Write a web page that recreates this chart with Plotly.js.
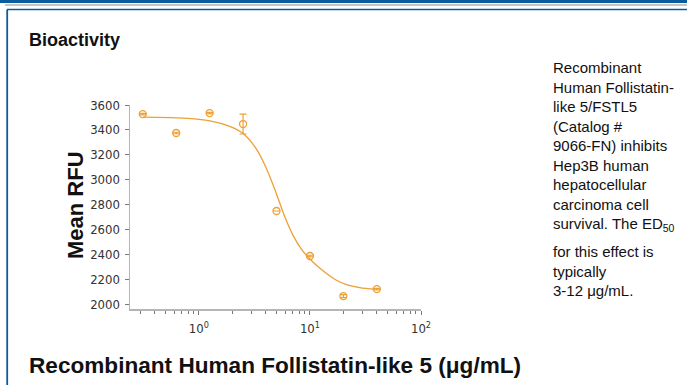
<!DOCTYPE html>
<html>
<head>
<meta charset="utf-8">
<script src="https://cdn.plot.ly/plotly-3.0.1.min.js"></script>
<style>
  html, body { margin: 0; padding: 0; background: #ffffff; }
  #chart { width: 687px; height: 385px; }
</style>
</head>
<body>
<div id="chart"></div>
<script>
// ---- data ----
const concentration = [0.3125, 0.625, 1.25, 2.5, 5, 10, 20, 40];
const meanRFU = [3527, 3375, 3535, 3447, 2748, 2386, 2064, 2120];
const errRFU = [6, 6, 6, 80, 0, 6, 12, 6];

const fitX = [0.315, 0.72, 1.26, 1.9, 2.5, 3.3, 4.1, 5.0, 5.95, 7.07, 8.4, 10, 12, 14.1, 17, 21.4, 28, 38.5];
const fitY = [3503, 3495, 3473, 3428, 3370, 3245, 3080, 2885, 2700, 2550, 2440, 2362, 2295, 2245, 2195, 2155, 2132, 2120];

const yTicks = [2000, 2200, 2400, 2600, 2800, 3000, 3200, 3400, 3600];
const xTickVals = [1, 10, 100];
const xTickText = ['10<sup>0</sup>', '10<sup>1</sup>', '10<sup>2</sup>'];
const xMinorTicks = [0.3, 0.4, 0.5, 0.6, 0.7, 0.8, 0.9, 2, 3, 4, 5, 6, 7, 8, 9, 20, 30, 40, 50, 60, 70, 80, 90];

const sideText1 = 'Recombinant<br>Human Follistatin-<br>like 5/FSTL5<br>(Catalog #<br>9066-FN) inhibits<br>Hep3B human<br>hepatocellular<br>carcinoma cell<br>survival. The ED<sub>50</sub>';
const sideText2 = 'for this effect is<br>typically<br>3-12 μg/mL.';

// ---- layout geometry ----
const W = 687, H = 385;
const M = { l: 130, r: 266, t: 105, b: 76 };
const PW = W - M.l - M.r, PH = H - M.t - M.b;
const px = x => (x - M.l) / PW;
const py = y => (H - M.b - y) / PH;

const orange = '#EDA033';
const condensed = '"DejaVu Sans Condensed", "Liberation Sans Narrow", "DejaVu Sans", sans-serif';
const arial = 'Arial, "Liberation Sans", Helvetica, sans-serif';

const traces = [
  {
    x: fitX, y: fitY, type: 'scatter', mode: 'lines',
    line: { color: orange, width: 1.3, shape: 'spline', smoothing: 1 },
    hoverinfo: 'skip', showlegend: false
  },
  {
    x: concentration, y: meanRFU, type: 'scatter', mode: 'markers',
    marker: { symbol: 'circle-open', size: 7, color: orange, line: { width: 1.3, color: orange } },
    error_y: { type: 'data', array: errRFU, visible: true, color: orange, thickness: 1.2, width: 3.5 },
    showlegend: false
  }
];

const borderBlue = '#0B5C9E';
const layout = {
  width: W, height: H,
  margin: M,
  paper_bgcolor: '#ffffff', plot_bgcolor: '#ffffff',
  showlegend: false,
  xaxis: {
    type: 'log', range: [-0.62, 2.0],
    tickmode: 'array', tickvals: xTickVals, ticktext: xTickText,
    ticks: 'outside', ticklen: 4, tickwidth: 1, tickcolor: '#777',
    minor: { tickmode: 'array', tickvals: xMinorTicks, ticks: 'outside', ticklen: 3, tickwidth: 1, tickcolor: '#777', showgrid: false },
    showline: true, linecolor: '#b5b5b5', linewidth: 1.5,
    showgrid: false, zeroline: false,
    tickfont: { family: condensed, size: 13, color: '#333' },
    ticklabelstandoff: 3
  },
  yaxis: {
    range: [1960, 3600],
    tickmode: 'array', tickvals: yTicks,
    ticks: 'outside', ticklen: 4, tickwidth: 1, tickcolor: '#777',
    showline: true, linecolor: '#b5b5b5', linewidth: 1.5,
    showgrid: false, zeroline: false,
    tickfont: { family: condensed, size: 13, color: '#333' },
    ticklabelstandoff: 2
  },
  shapes: [
    { type: 'rect', xref: 'paper', yref: 'paper', x0: px(0), x1: px(687), y0: py(0), y1: py(3), fillcolor: borderBlue, line: { width: 0 } },
    { type: 'line', xref: 'paper', yref: 'paper', x0: px(5), x1: px(687), y0: py(5), y1: py(5), line: { color: '#b0b0b0', width: 1.5 } },
    { type: 'line', xref: 'paper', yref: 'paper', x0: px(7), x1: px(687), y0: py(9.5), y1: py(9.5), line: { color: borderBlue, width: 1.5 } },
    { type: 'line', xref: 'paper', yref: 'paper', x0: px(7.2), x1: px(7.2), y0: py(9.5), y1: py(385), line: { color: borderBlue, width: 1.8 } }
  ],
  annotations: [
    { text: '<b>Bioactivity</b>', xref: 'paper', yref: 'paper', x: px(27), y: py(40), xanchor: 'left', yanchor: 'middle', showarrow: false, font: { family: arial, size: 18, color: '#111' } },
    { text: '<b>Mean RFU</b>', xref: 'paper', yref: 'paper', x: px(75), y: py(205), xanchor: 'center', yanchor: 'middle', textangle: -90, showarrow: false, font: { family: arial, size: 22, color: '#111' } },
    { text: '<b>Recombinant Human Follistatin-like 5 (μg/mL)</b>', xref: 'paper', yref: 'paper', x: px(27), y: py(365), xanchor: 'left', yanchor: 'middle', showarrow: false, font: { family: arial, size: 22.6, color: '#111' } },
    { text: sideText1, xref: 'paper', yref: 'paper', x: px(551), y: py(57), xanchor: 'left', yanchor: 'top', align: 'left', showarrow: false, font: { family: arial, size: 15, color: '#111' } },
    { text: sideText2, xref: 'paper', yref: 'paper', x: px(551), y: py(241), xanchor: 'left', yanchor: 'top', align: 'left', showarrow: false, font: { family: arial, size: 15, color: '#111' } }
  ]
};

Plotly.newPlot('chart', traces, layout, { staticPlot: true, displayModeBar: false });
</script>
</body>
</html>
